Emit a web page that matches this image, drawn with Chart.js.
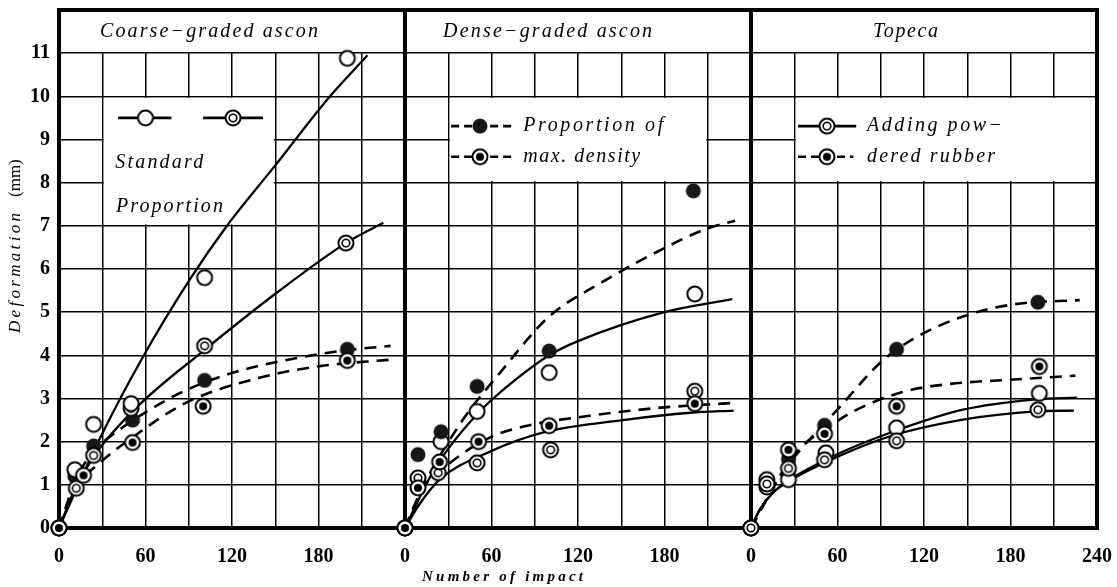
<!DOCTYPE html>
<html><head><meta charset="utf-8">
<script src="https://cdn.jsdelivr.net/npm/chart.js@4.4.1/dist/chart.umd.min.js"></script>
<style>
html,body{margin:0;padding:0;background:#fff;}
#wrap{position:relative;width:1117px;height:587px;background:#fff;overflow:hidden;}
#wrap canvas{position:absolute;left:0;top:0;}
</style></head><body>
<div id="wrap">
<canvas id="c1" width="1117" height="587"></canvas>
<canvas id="c2" width="1117" height="587"></canvas>
<canvas id="c3" width="1117" height="587"></canvas>
</div>
<script>
// ---------- tick labels ----------
const yTickLabels = ['0','1','2','3','4','5','6','7','8','9','10','11'];
const xTickLabelsLeft = [0, 60, 120, 180];
const xTickLabelsRight = [0, 60, 120, 180, 240];

// ---------- panel titles / legend texts ----------
const panelTitles = ['Coarse\u2212graded ascon', 'Dense\u2212graded ascon', 'Topeca'];
const legendTexts1 = ['Standard', 'Proportion'];
const legendTexts2 = ['Proportion of', 'max. density'];
const legendTexts3 = ['Adding pow\u2212', 'dered rubber'];
const yAxisTitle = ['Deformation', '(mm)'];
const xAxisTitle = 'Number of impact';

// ---------- Coarse-graded ascon : measured points [impact, mm] ----------
const coarseOpenPts   = [[0,0],[11,1.35],[24,2.4],[50,2.88],[101,5.8],[200,10.88]];
const coarseDoublePts = [[0,0],[12,0.92],[24,1.68],[50,2.77],[101,4.22],[199,6.6]];
const coarseFilledPts = [[0,0],[11,1.2],[24,1.9],[51,2.5],[101,3.42],[200,4.14]];
const coarseDotPts    = [[0,0],[17,1.22],[51,1.98],[100,2.82],[200,3.88]];
// fitted curves
const coarseOpenCurve   = [[0,0],[28,2.05],[58,3.95],[91,5.77],[116,6.98],[150,8.4],[188,10.0],[214,10.95]];
const coarseDoubleCurve = [[0,0],[11,0.9],[25,1.7],[54,2.8],[100,4.1],[151,5.45],[199,6.6],[225,7.07]];
const coarseFilledCurve = [[0,0],[12,1.15],[25,1.8],[45,2.35],[60,2.68],[86,3.16],[121,3.6],[167,3.95],[200,4.12],[230,4.22]];
const coarseDotCurve    = [[0,0],[12,0.95],[28,1.5],[51,2.1],[88,2.9],[139,3.48],[181,3.75],[230,3.9]];

// ---------- Dense-graded ascon ----------
const denseFilledPts = [[0,0],[9,1.7],[25,2.23],[50,3.28],[100,4.1],[200,7.81]];
const denseOpenPts   = [[0,0],[25,2.0],[50,2.7],[100,3.6],[201,5.42]];
const denseDotPts    = [[0,0],[9,0.93],[24,1.53],[51,2.0],[100,2.37],[201,2.88]];
const denseDoublePts = [[0,0],[9,1.16],[23,1.28],[50,1.51],[101,1.81],[201,3.17]];
const denseFilledCurve = [[0,0],[14,1.05],[40,2.5],[66,3.6],[100,4.9],[137,5.7],[175,6.4],[209,6.93],[229,7.12]];
const denseOpenCurve   = [[0,0],[19,1.28],[31,1.88],[51,2.67],[66,3.14],[100,4.0],[120,4.33],[180,5.0],[227,5.3]];
const denseDotCurve    = [[0,0],[12,0.9],[31,1.5],[59,2.1],[82,2.35],[128,2.6],[175,2.78],[229,2.9]];
const denseDoubleCurve = [[0,0],[10,0.55],[24,1.12],[59,1.77],[98,2.23],[151,2.5],[198,2.67],[228,2.72]];

// ---------- Topeca ----------
const topecaFilledPts = [[0,0],[11,1.1],[26,1.6],[51,2.38],[101,4.14],[199,5.23]];
const topecaDotPts    = [[0,0],[11,1.12],[26,1.81],[51,2.18],[101,2.82],[200,3.74]];
const topecaOpenPts   = [[0,0],[11,0.95],[26,1.12],[52,1.74],[101,2.32],[200,3.12]];
const topecaDoublePts = [[0,0],[11,1.02],[26,1.38],[51,1.58],[101,2.02],[199,2.74]];
const topecaFilledCurve = [[0,0],[20,1.2],[34,1.8],[62,2.82],[90,3.84],[112,4.37],[147,4.9],[182,5.18],[228,5.28]];
const topecaDotCurve    = [[0,0],[20,1.2],[34,1.85],[52,2.3],[71,2.7],[105,3.15],[136,3.33],[182,3.44],[225,3.53]];
const topecaOpenCurve   = [[0,0],[6,0.42],[15,0.81],[27,1.12],[62,1.74],[96,2.2],[147,2.74],[198,2.98],[226,3.02]];
const topecaDoubleCurve = [[0,0],[6,0.42],[15,0.81],[27,1.1],[62,1.68],[96,2.12],[147,2.51],[198,2.7],[224,2.72]];

// ---------- marker images ----------
function makeMarker(kind){
  const r = 8.5, s = 22, m = s/2;
  const c = document.createElement('canvas'); c.width = s; c.height = s;
  const g = c.getContext('2d');
  g.beginPath(); g.arc(m, m, r-1, 0, Math.PI*2);
  if (kind === 'filled') { g.fillStyle = '#161616'; g.fill(); }
  else { g.fillStyle = '#fff'; g.fill(); g.lineWidth = 2; g.strokeStyle = '#000'; g.stroke(); }
  if (kind === 'double') { g.beginPath(); g.arc(m, m, 3.8, 0, Math.PI*2); g.lineWidth = 1.6; g.stroke(); }
  if (kind === 'dot') { g.beginPath(); g.arc(m, m, 4, 0, Math.PI*2); g.fillStyle = '#000'; g.fill(); }
  return c;
}
const MK = { open: makeMarker('open'), double: makeMarker('double'), filled: makeMarker('filled'), dot: makeMarker('dot') };

const toXY = arr => arr.map(p => ({x: p[0], y: p[1]}));
const ptsDS = (arr, kind) => ({ data: toXY(arr), showLine: false, pointStyle: MK[kind], pointRadius: 9, clip: false });
const curveDS = (arr, dashed) => ({ data: toXY(arr), showLine: true, pointRadius: 0, borderColor: '#000',
  borderWidth: dashed ? 2.6 : 2.3, borderDash: dashed ? [12, 8] : [], cubicInterpolationMode: 'monotone', fill: false });

function spacedText(ctx, text, x, y, targetW, font, align){
  ctx.save();
  ctx.font = font; ctx.letterSpacing = '0px';
  const w = ctx.measureText(text).width;
  const n = [...text].length;
  const sp = n > 1 ? Math.max(0, (targetW - w) / (n - 1)) : 0;
  ctx.letterSpacing = sp.toFixed(2) + 'px';
  ctx.textBaseline = 'middle'; ctx.textAlign = align || 'left';
  ctx.fillStyle = '#000';
  ctx.fillText(text, x, y);
  ctx.restore();
}

const ITF = 'italic 20px "Liberation Serif"';
const TICKFONT = {family: '"Liberation Serif"', size: 20, weight: 'bold'};

function legendRow(ctx, xs, ys, x0, x1, xm, yv, dashed, kind){
  const y = ys.getPixelForValue(yv);
  ctx.save();
  ctx.strokeStyle = '#000'; ctx.lineWidth = 2.6;
  ctx.setLineDash(dashed ? [8, 5] : []);
  ctx.beginPath(); ctx.moveTo(xs.getPixelForValue(x0), y); ctx.lineTo(xs.getPixelForValue(x1), y); ctx.stroke();
  const img = MK[kind];
  ctx.drawImage(img, xs.getPixelForValue(xm) - img.width/2, y - img.height/2);
  ctx.restore();
}

function makePanel(id, cfg){
  const plugin = {
    id: 'decor' + id,
    beforeDatasetsDraw(chart){
      const ctx = chart.ctx, a = chart.chartArea, xs = chart.scales.x, ys = chart.scales.y;
      ctx.save();
      ctx.fillStyle = '#fff';
      const b11 = ys.getPixelForValue(11);
      ctx.fillRect(a.left + 1, a.top, a.right - a.left - 2, b11 - a.top - 1.2);
      const lb = cfg.legendBox;
      const lx0 = xs.getPixelForValue(lb[0]), lx1 = xs.getPixelForValue(lb[1]);
      const ly0 = ys.getPixelForValue(lb[3]), ly1 = ys.getPixelForValue(lb[2]);
      ctx.fillRect(lx0 + 1.5, ly0 + 1.5, lx1 - lx0 - 3, ly1 - ly0 - 3);
      ctx.strokeStyle = '#000'; ctx.lineWidth = 4;
      ctx.strokeRect(a.left, a.top, a.right - a.left, a.bottom - a.top);
      ctx.restore();
      spacedText(ctx, cfg.title, xs.getPixelForValue(cfg.titleX), ys.getPixelForValue(11.5), cfg.titleW, ITF);
      cfg.drawLegend(ctx, xs, ys);
    },
    afterDraw(chart){ if (cfg.afterDraw) cfg.afterDraw(chart); }
  };
  return new Chart(document.getElementById(id), {
    type: 'scatter',
    data: { datasets: cfg.datasets },
    options: {
      responsive: false, animation: false, events: [],
      layout: { padding: { left: cfg.padLeft, right: cfg.padRight, top: 10, bottom: 0 } },
      plugins: { legend: { display: false }, tooltip: { enabled: false } },
      scales: {
        x: { type: 'linear', min: 0, max: 240,
          afterFit(s){ s.height = 59; s.paddingLeft = 0; s.paddingRight = 0; },
          border: { display: false },
          grid: { color: '#000', lineWidth: 1.5, drawTicks: false },
          ticks: { stepSize: 30, autoSkip: false, maxRotation: 0, minRotation: 0, padding: 17, color: '#000', font: TICKFONT,
            callback: v => cfg.xLabels.includes(v) ? String(v) : '' } },
        y: { type: 'linear', min: 0, max: 12,
          afterFit(s){ s.width = cfg.yWidth; s.paddingTop = 0; s.paddingBottom = 0; },
          border: { display: false },
          grid: { color: '#000', lineWidth: 1.5, drawTicks: false },
          ticks: { display: cfg.showY, stepSize: 1, padding: 9, color: '#000', font: TICKFONT,
            callback: v => (yTickLabels[v] !== undefined ? yTickLabels[v] : '') } }
      }
    },
    plugins: [plugin]
  });
}

// Panel 1
makePanel('c1', {
  padLeft: 0, padRight: 1117 - 405, yWidth: 59, showY: true, xLabels: xTickLabelsLeft,
  title: panelTitles[0], titleX: 28.4, titleW: 218,
  legendBox: [30, 150, 7, 10],
  datasets: [
    ptsDS(coarseDotPts, 'dot'), ptsDS(coarseOpenPts, 'open'), ptsDS(coarseDoublePts, 'double'), ptsDS(coarseFilledPts, 'filled'),
    curveDS(coarseOpenCurve, false), curveDS(coarseDoubleCurve, false), curveDS(coarseFilledCurve, true), curveDS(coarseDotCurve, true)
  ],
  drawLegend(ctx, xs, ys){
    legendRow(ctx, xs, ys, 41, 78, 60, 9.5, false, 'open');
    legendRow(ctx, xs, ys, 100, 141.5, 120.7, 9.5, false, 'double');
    spacedText(ctx, legendTexts1[0], xs.getPixelForValue(39), ys.getPixelForValue(8.45), 88, ITF);
    spacedText(ctx, legendTexts1[1], xs.getPixelForValue(39.5), ys.getPixelForValue(7.45), 107, ITF);
  },
  afterDraw(chart){
    const ctx = chart.ctx;
    ctx.save();
    ctx.translate(16, 247); ctx.rotate(-Math.PI/2);
    spacedText(ctx, yAxisTitle[0], -86, 0, 120, 'italic 17px "Liberation Serif"');
    spacedText(ctx, yAxisTitle[1], 50, 0, 37, '17px "Liberation Serif"');
    ctx.restore();
    spacedText(ctx, xAxisTitle, 422, 577, 161, 'italic bold 15px "Liberation Serif"');
  }
});

// Panel 2
makePanel('c2', {
  padLeft: 405, padRight: 1117 - 751, yWidth: 0, showY: false, xLabels: xTickLabelsLeft,
  title: panelTitles[1], titleX: 26.4, titleW: 209,
  legendBox: [30, 210, 8, 10],
  datasets: [
    ptsDS(denseDotPts, 'dot'), ptsDS(denseDoublePts, 'double'), ptsDS(denseFilledPts, 'filled'), ptsDS(denseOpenPts, 'open'),
    curveDS(denseFilledCurve, true), curveDS(denseOpenCurve, false), curveDS(denseDotCurve, true), curveDS(denseDoubleCurve, false)
  ],
  drawLegend(ctx, xs, ys){
    legendRow(ctx, xs, ys, 32, 74, 52, 9.31, true, 'filled');
    legendRow(ctx, xs, ys, 32, 74, 52, 8.6, true, 'dot');
    spacedText(ctx, legendTexts2[0], xs.getPixelForValue(82), ys.getPixelForValue(9.31), 140, ITF);
    spacedText(ctx, legendTexts2[1], xs.getPixelForValue(82), ys.getPixelForValue(8.6), 117, ITF);
  }
});

// Panel 3
makePanel('c3', {
  padLeft: 751, padRight: 1117 - 1097, yWidth: 0, showY: false, xLabels: xTickLabelsRight,
  title: panelTitles[2], titleX: 84.6, titleW: 65,
  legendBox: [30, 240, 8, 10],
  datasets: [
    ptsDS(topecaDoublePts, 'double'), ptsDS(topecaDotPts, 'dot'), ptsDS(topecaOpenPts, 'open'), ptsDS(topecaFilledPts, 'filled'),
    curveDS(topecaFilledCurve, true), curveDS(topecaDotCurve, true), curveDS(topecaOpenCurve, false), curveDS(topecaDoubleCurve, false)
  ],
  drawLegend(ctx, xs, ys){
    legendRow(ctx, xs, ys, 32.6, 73, 52.7, 9.31, false, 'double');
    legendRow(ctx, xs, ys, 32.6, 71, 52.7, 8.6, true, 'dot');
    spacedText(ctx, legendTexts3[0], xs.getPixelForValue(80.5), ys.getPixelForValue(9.31), 135, ITF);
    spacedText(ctx, legendTexts3[1], xs.getPixelForValue(80.5), ys.getPixelForValue(8.6), 128, ITF);
  }
});
</script>
</body></html>
